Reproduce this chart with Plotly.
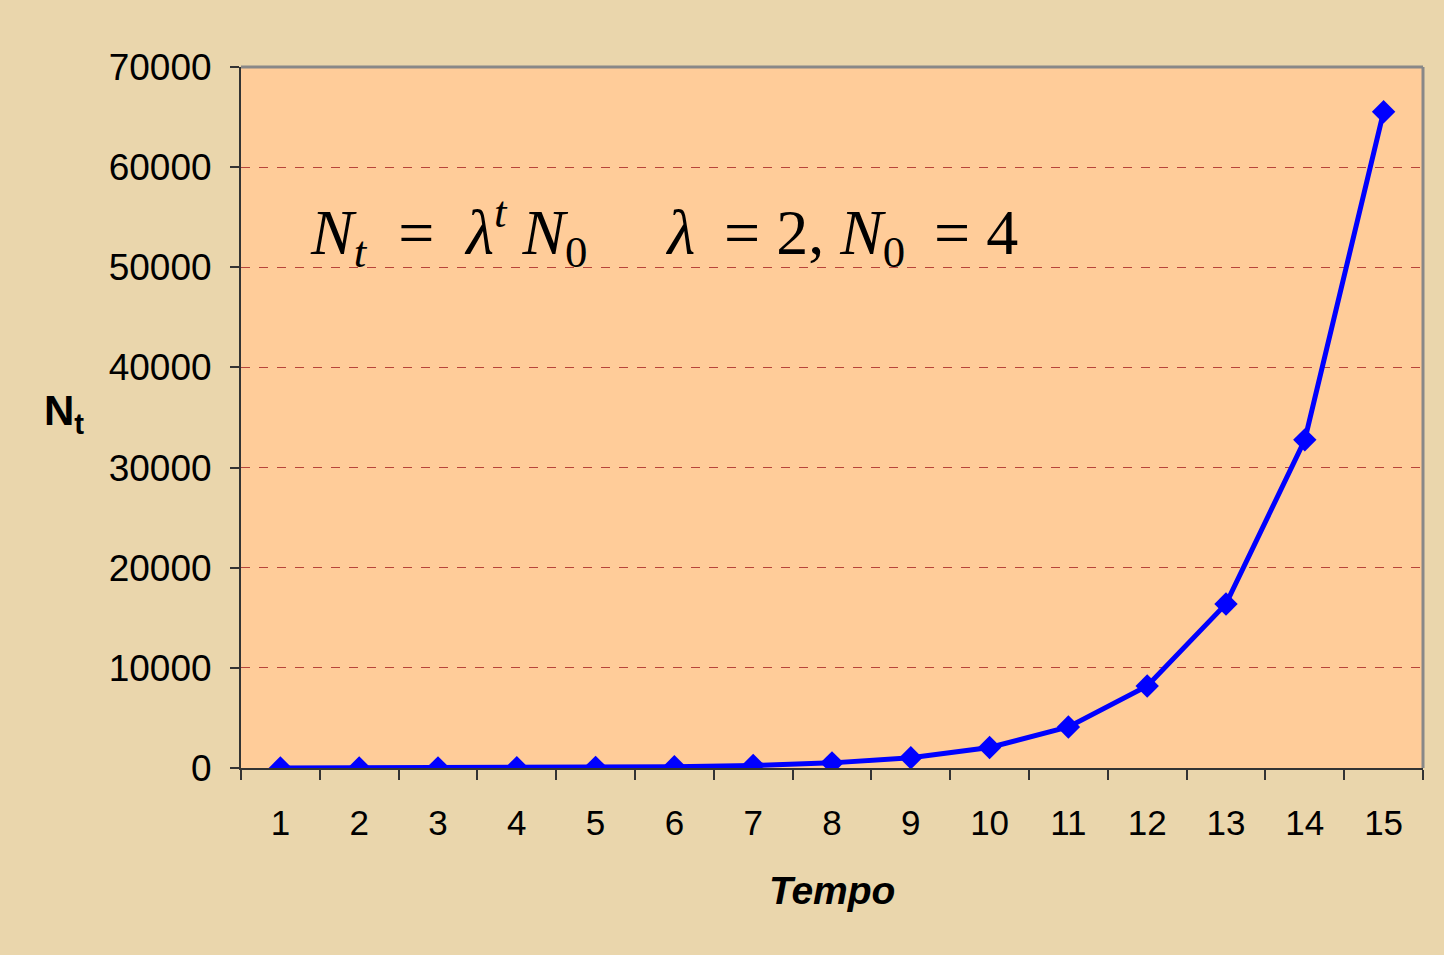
import plotly.graph_objects as go

# Population size N_t over time
tempo = [1, 2, 3, 4, 5, 6, 7, 8, 9, 10, 11, 12, 13, 14, 15]
n_t = [4, 8, 16, 32, 64, 128, 256, 512, 1024, 2048, 4096, 8192, 16384, 32768, 65536]
y_ticks = [0, 10000, 20000, 30000, 40000, 50000, 60000, 70000]
x_edges = [i + 0.5 for i in range(0, 16)]

fig = go.Figure()
fig.add_trace(go.Scatter(
    x=tempo, y=n_t, mode="lines+markers",
    line=dict(color="#0000FF", width=5),
    marker=dict(symbol="diamond", size=18, color="#0000FF"),
    showlegend=False,
))

y_font = dict(family="Liberation Sans, Arial", size=37, color="#000000")
x_font = dict(family="Liberation Sans, Arial", size=35, color="#000000")

fig.update_layout(
    width=1444, height=955,
    margin=dict(l=241, r=21, t=67, b=187),
    paper_bgcolor="#EAD6AC",
    plot_bgcolor="#FFCC99",
    xaxis=dict(
        range=[0.5, 15.5], tickvals=tempo, ticktext=[str(t) for t in tempo],
        ticks="", showgrid=False, zeroline=False,
        showline=True, linecolor="#333333", linewidth=2,
        tickfont=x_font, ticklabelstandoff=23,
        minor=dict(tickvals=x_edges, ticks="outside", ticklen=10,
                   tickcolor="#333333", tickwidth=2, showgrid=False),
    ),
    yaxis=dict(
        range=[0, 70000], tickvals=y_ticks, ticktext=[str(v) for v in y_ticks],
        ticks="outside", ticklen=9, tickcolor="#333333", tickwidth=2,
        showgrid=True, gridcolor="#B8443A", griddash="dash", gridwidth=1,
        zeroline=False, showline=True, linecolor="#333333", linewidth=2,
        tickfont=y_font, ticklabelstandoff=11,
    ),
    shapes=[dict(type="line", xref="paper", yref="paper", x0=0, x1=1, y0=1, y1=1,
                 line=dict(color="#888888", width=3)),
            dict(type="line", xref="paper", yref="paper", x0=1, x1=1, y0=0, y1=1,
                 line=dict(color="#888888", width=3))],
    annotations=[
        dict(text="<i>N</i><sub><i>t</i></sub>  =  <i>λ</i><sup><i>t</i></sup> <i>N</i><sub>0</sub>"
                  "     <i>λ</i> \u2009= 2, <i>N</i><sub>0</sub> \u2009= 4",
             xref="paper", yref="paper", x=0.057, y=0.765, xanchor="left", yanchor="middle",
             showarrow=False,
             font=dict(family="Liberation Serif, Times New Roman", size=64, color="#000000")),
        dict(text="<b>N<sub>t</sub></b>", xref="paper", yref="paper",
             x=-0.168, y=0.505, xanchor="left", yanchor="middle", showarrow=False,
             font=dict(family="Liberation Sans, Arial", size=42, color="#000000")),
        dict(text="<b><i>Tempo</i></b>", xref="paper", yref="paper",
             x=0.5, y=-0.175, xanchor="center", yanchor="middle", showarrow=False,
             font=dict(family="Liberation Sans, Arial", size=39, color="#000000")),
    ],
)

fig.write_html("out.html")
